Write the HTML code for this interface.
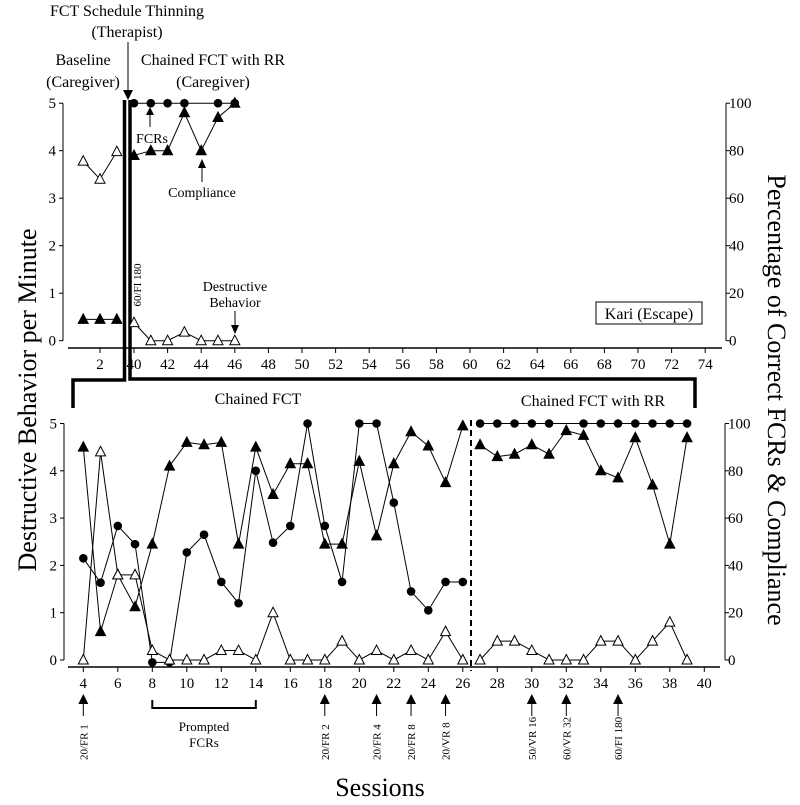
<!DOCTYPE html>
<html><head><meta charset="utf-8"><style>
html,body{margin:0;padding:0;background:#fff;}
svg, svg text{font-family:"Liberation Serif","DejaVu Serif",serif;}
</style></head><body>
<svg id="chart" width="800" height="800" viewBox="0 0 800 800" xmlns="http://www.w3.org/2000/svg" font-family="Liberation Serif, DejaVu Serif, serif">
<g id="static" font-family="Liberation Serif, DejaVu Serif, serif">
 <text x="127" y="16" font-size="16" text-anchor="middle">FCT Schedule Thinning</text>
 <text x="127" y="37" font-size="16" text-anchor="middle">(Therapist)</text>
 <line x1="128" y1="42" x2="128" y2="92" stroke="#000" stroke-width="1"/>
 <polygon points="123,90 133,90 128,100" fill="#000"/>
 <text x="83" y="65" font-size="16" text-anchor="middle">Baseline</text>
 <text x="83" y="87" font-size="16" text-anchor="middle">(Caregiver)</text>
 <text x="213" y="65" font-size="16" text-anchor="middle">Chained FCT with RR</text>
 <text x="213" y="87" font-size="16" text-anchor="middle">(Caregiver)</text>
 <polyline points="124.5,100 124.5,380 73,380 73,408" fill="none" stroke="#000" stroke-width="3.5"/>
 <polyline points="130,100 130,379 695,379 695,408" fill="none" stroke="#000" stroke-width="3.5"/>
 <text x="258" y="404" font-size="16" text-anchor="middle">Chained FCT</text>
 <text x="593" y="406" font-size="16" text-anchor="middle">Chained FCT with RR</text>
 <line x1="471" y1="420" x2="471" y2="671" stroke="#000" stroke-width="2" stroke-dasharray="6,4"/>
 <text x="152" y="143" font-size="14" text-anchor="middle">FCRs</text>
 <line x1="150" y1="127" x2="150" y2="113" stroke="#000"/>
 <polygon points="146,115 154,115 150,107" fill="#000"/>
 <text x="202" y="197" font-size="14" text-anchor="middle">Compliance</text>
 <line x1="202" y1="182" x2="202" y2="166" stroke="#000"/>
 <polygon points="198,168 206,168 202,159" fill="#000"/>
 <text x="235" y="291" font-size="14" text-anchor="middle">Destructive</text>
 <text x="235" y="307" font-size="14" text-anchor="middle">Behavior</text>
 <line x1="235" y1="311" x2="235" y2="326" stroke="#000"/>
 <polygon points="231,325 239,325 235,334" fill="#000"/>
 <text transform="translate(141,285) rotate(-90)" font-size="11" text-anchor="middle">60/FI 180</text>
 <rect x="596" y="302" width="106" height="22" fill="#fff" stroke="#000"/>
 <text x="649" y="319" font-size="16" text-anchor="middle">Kari (Escape)</text>
 <text transform="translate(36,400) rotate(-90)" font-size="26" text-anchor="middle">Destructive Behavior per Minute</text>
 <text transform="translate(768,400) rotate(90)" font-size="26" text-anchor="middle">Percentage of Correct FCRs &amp; Compliance</text>
 <text x="380" y="796" font-size="26" text-anchor="middle">Sessions</text>
 <polyline points="152.3,700 152.3,708 255.8,708 255.8,700" fill="none" stroke="#000" stroke-width="2"/>
 <text x="204" y="731" font-size="13" text-anchor="middle">Prompted</text>
 <text x="204" y="747" font-size="13" text-anchor="middle">FCRs</text>
</g>
<g id="axes" font-family="Liberation Serif, DejaVu Serif, serif"></g>
<g id="marks" font-family="Liberation Serif, DejaVu Serif, serif"></g>
</svg>
<script>
const topBaseSessions = [1, 2, 3];
const topBaseDestructive = [3.78, 3.4, 3.98];
const topBaseCompliance = [9, 9, 9];
const topTxSessions = [40, 41, 42, 43, 44, 45, 46];
const topTxDestructive = [0.38, 0, 0, 0.18, 0, 0, 0];
const topTxCompliance = [78, 80, 80, 96, 80, 94, 100];
const topTxFCR = [100, 100, 100, 100, null, 100, 100];
const topXTicks = [2, 40, 42, 44, 46, 48, 50, 52, 54, 56, 58, 60, 62, 64, 66, 68, 70, 72, 74];
const leftTicks = [0, 1, 2, 3, 4, 5];
const rightTicks = [0, 20, 40, 60, 80, 100];
const botA_Sessions = [4,5,6,7,8,9,10,11,12,13,14,15,16,17,18,19,20,21,22,23,24,25,26];
const botA_Destructive = [0,4.4,1.8,1.8,0.2,0,0,0,0.2,0.2,0,1.0,0,0,0,0.4,0,0.2,0,0.2,0,0.6,0];
const botA_Compliance = [90,12,36,22.5,49,82,92,91,92,49,90,70,83,83,49,49,84,52.5,83,96.5,90.5,75,99];
const botA_FCR = [43,32.7,56.7,49,-1,-1,45.5,53,33,24,80,49.6,56.7,100,56.7,33,100,100,66.5,29,21,33,33];
const botB_Sessions = [27,28,29,30,31,32,33,34,35,36,37,38,39];
const botB_Destructive = [0,0.4,0.4,0.2,0,0,0,0.4,0.4,0,0.4,0.8,0];
const botB_Compliance = [91,86,87,91,87,97,95,80,77,94,74,49,94];
const botB_FCR = [100,100,100,100,100,null,100,100,100,100,100,100,100];
const botXTicks = [4,6,8,10,12,14,16,18,20,22,24,26,28,30,32,34,36,38,40];
const schedSessions = [4, 18, 21, 23, 25, 30, 32, 35];
const schedLabels = ["20/FR 1","20/FR 2","20/FR 4","20/FR 8","20/VR 8","50/VR 16","60/VR 32","60/FI 180"];

const NS = "http://www.w3.org/2000/svg";
const axesG = document.getElementById('axes');
const marksG = document.getElementById('marks');
const FF = "Liberation Serif, DejaVu Serif, serif";
function mk(tag, attrs, parent){ const e=document.createElementNS(NS,tag); for(const k in attrs) e.setAttribute(k,attrs[k]); if(tag==='text') e.setAttribute('font-family',FF); (parent||marksG).appendChild(e); return e; }

function xT(s){ return s < 10 ? 100 + (s-2)*16.8 : 134 + (s-40)*16.8; }
function yT(v){ return 340.7 - 47.5*v; }
function pT(p){ return 340.7 - 2.375*p; }
function xB(s){ return 83.3 + (s-4)*17.25; }
function yB(v){ return 660 - 47.3*v; }
function pB(p){ return 660 - 2.365*p; }

function axis(cfg){
  const l = mk('line',{x1:cfg.xa1,y1:cfg.xy,x2:cfg.xa2,y2:cfg.xy,stroke:'#000','stroke-width':1.5},axesG);
  
  
  cfg.xt.forEach(s=>{
    const x=cfg.xs(s);
    const t=mk('line',{x1:x,y1:cfg.xy,x2:x,y2:cfg.xy+5,stroke:'#000'},axesG);
    
    
    const tx=mk('text',{x:x,y:cfg.xy+21,'font-size':15,'text-anchor':'middle'},axesG);
    tx.textContent=s;
    
    
  });
  const la=mk('line',{x1:cfg.lx,y1:cfg.ys(5),x2:cfg.lx,y2:cfg.ys(0),stroke:'#000'},axesG);
  
  
  leftTicks.forEach(v=>{
    const y=cfg.ys(v);
    const t=mk('line',{x1:cfg.lx-4,y1:y,x2:cfg.lx,y2:y,stroke:'#000'},axesG);
    
    
    const tx=mk('text',{x:cfg.lx-7,y:y+5,'font-size':15,'text-anchor':'end'},axesG);
    tx.textContent=v;
    
    
  });
  const ra=mk('line',{x1:cfg.rx,y1:cfg.ps(100),x2:cfg.rx,y2:cfg.ps(0),stroke:'#000'},axesG);
  
  
  rightTicks.forEach(v=>{
    const y=cfg.ps(v);
    const t=mk('line',{x1:cfg.rx,y1:y,x2:cfg.rx+4,y2:y,stroke:'#000'},axesG);
    
    
    const tx=mk('text',{x:cfg.rx+3,y:y+5,'font-size':15,'text-anchor':'start'},axesG);
    tx.textContent=v;
    
    
  });
}
axis({name:'top',xa1:68,xa2:722,xy:348,xt:topXTicks,xs:xT,lx:63,ys:yT,rx:726,ps:pT});
axis({name:'bottom',xa1:68,xa2:720,xy:667,xt:botXTicks,xs:xB,lx:64,ys:yB,rx:725,ps:pB});

function series(sess, vals, xs, ys, kind, name){
  let pts=[];
  sess.forEach((s,i)=>{ if(vals[i]!==null) pts.push([xs(s), ys(vals[i])]); });
  const pl=mk('polyline',{points:pts.map(p=>p.join(',')).join(' '),fill:'none',stroke:'#000','stroke-width':1});
  
  
  pts.forEach(p=>{
    let m;
    if(kind==='dot'){ m=mk('circle',{cx:p[0],cy:p[1],r:4.3,fill:'#000'}); }
    else {
      const [x,y]=p;
      m=mk('polygon',{points:`${x-5},${y+4} ${x+5},${y+4} ${x},${y-5.5}`,fill:kind==='open'?'#fff':'#000',stroke:'#000','stroke-width':1});
    }
    
    
  });
}
series(topBaseSessions, topBaseDestructive, xT, yT, 'open', 'top-baseline-destructive');
series(topBaseSessions, topBaseCompliance, xT, pT, 'filled', 'top-baseline-compliance');
series(topTxSessions, topTxFCR, xT, pT, 'dot', 'top-fcr');
series(topTxSessions, topTxCompliance, xT, pT, 'filled', 'top-compliance');
series(topTxSessions, topTxDestructive, xT, yT, 'open', 'top-destructive');
series(botA_Sessions, botA_FCR, xB, pB, 'dot', 'chained-fcr');
series(botA_Sessions, botA_Compliance, xB, pB, 'filled', 'chained-compliance');
series(botA_Sessions, botA_Destructive, xB, yB, 'open', 'chained-destructive');
series(botB_Sessions, botB_FCR, xB, pB, 'dot', 'chained-rr-fcr');
series(botB_Sessions, botB_Compliance, xB, pB, 'filled', 'chained-rr-compliance');
series(botB_Sessions, botB_Destructive, xB, yB, 'open', 'chained-rr-destructive');

schedSessions.forEach((s,i)=>{
  const x=xB(s);
  const a=mk('polygon',{points:`${x-5},${704} ${x+5},${704} ${x},${694}`,fill:'#000'});
  
  
  const l=mk('line',{x1:x,y1:703,x2:x,y2:716,stroke:'#000'});
  
  
  const t=mk('text',{transform:`translate(${x+4},${760}) rotate(-90)`,'font-size':11,'text-anchor':'start'});
  t.textContent=schedLabels[i];
  
  
});
</script>
</body></html>
